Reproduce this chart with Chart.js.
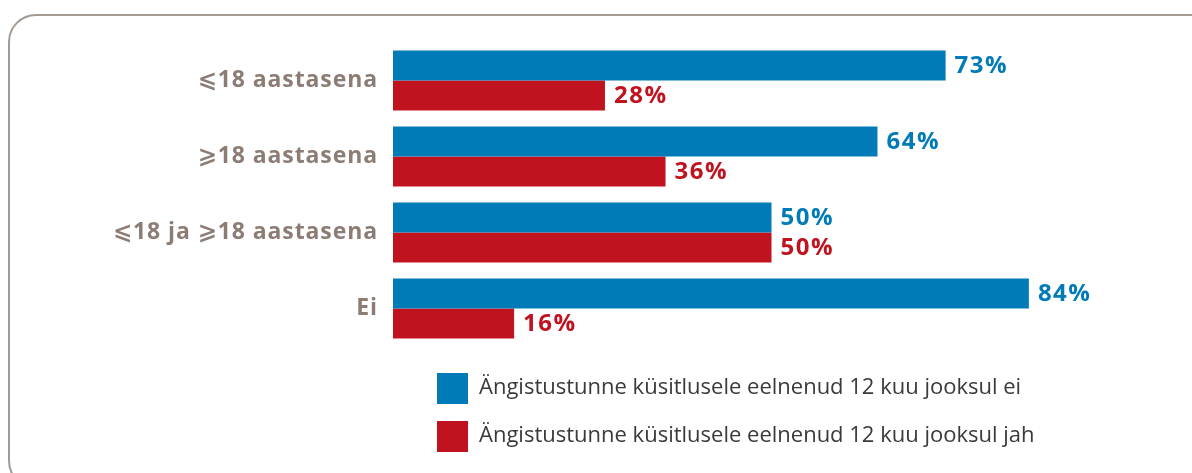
<!DOCTYPE html>
<html>
<head>
<meta charset="utf-8">
<script src="https://cdn.jsdelivr.net/npm/chart.js@4/dist/chart.umd.min.js"></script>
<style>
  html, body { margin: 0; padding: 0; background: #fff; }
  #wrap { position: relative; width: 1192px; height: 473px; overflow: hidden; }
  #frame {
    position: absolute; left: 8px; top: 14px; width: 1250px; height: 475px;
    border: 2px solid #a39a93; border-radius: 28px; box-sizing: border-box;
  }
  canvas { position: absolute; left: 0; top: 0; }
</style>
</head>
<body>
<div id="wrap">
  <div id="frame"></div>
  <canvas id="chart" width="1192" height="473"></canvas>
</div>
<script>
const categories = ['⩽18 aastasena', '⩾18 aastasena', '⩽18 ja ⩾18 aastasena', 'Ei'];
const seriesNames = [
    'Ängistustunne küsitlusele eelnenud 12 kuu jooksul ei',
    'Ängistustunne küsitlusele eelnenud 12 kuu jooksul jah'
];
const valuesEi = [73, 64, 50, 84];
const valuesJah = [28, 36, 50, 16];
const seriesColors = ['#007bb8', '#c1131f'];

const labelFont = '"Open Sans", "Noto Sans", "DejaVu Sans", sans-serif';

// a bit of tracking for the axis labels, the source font is wider
const spacing = {
    id: 'spacing',
    beforeDraw(chart) { chart.ctx.letterSpacing = '0.9px'; },
    afterDraw(chart) { chart.ctx.letterSpacing = '0px'; }
};

// value labels at the end of each bar
const valueLabels = {
    id: 'valueLabels',
    afterDatasetsDraw(chart) {
        const ctx = chart.ctx;
        ctx.save();
        ctx.letterSpacing = '1.5px';
        ctx.font = 'bold 24px ' + labelFont;
        ctx.textBaseline = 'middle';
        ctx.textAlign = 'left';
        chart.data.datasets.forEach((ds, i) => {
            const meta = chart.getDatasetMeta(i);
            ctx.fillStyle = ds.backgroundColor;
            meta.data.forEach((bar, j) => {
                ctx.fillText(ds.data[j] + '%', bar.x + 9, bar.y + 1);
            });
        });
        ctx.restore();
    }
};

// legend stacked under the bars
const sideLegend = {
    id: 'sideLegend',
    afterDraw(chart) {
        const ctx = chart.ctx;
        ctx.save();
        ctx.letterSpacing = '0px';
        ctx.font = '22px ' + labelFont;
        ctx.textBaseline = 'middle';
        chart.data.datasets.forEach((ds, i) => {
            const y = 373 + i * 48;
            ctx.fillStyle = ds.backgroundColor;
            ctx.fillRect(437, y, 31, 31);
            ctx.fillStyle = '#3a3a3a';
            ctx.fillText(ds.label, 479, y + 15);
        });
        ctx.restore();
    }
};

new Chart(document.getElementById('chart'), {
    type: 'bar',
    data: {
        labels: categories,
        datasets: [
            { label: seriesNames[0], data: valuesEi, backgroundColor: seriesColors[0] },
            { label: seriesNames[1], data: valuesJah, backgroundColor: seriesColors[1] }
        ]
    },
    options: {
        indexAxis: 'y',
        responsive: false,
        animation: false,
        layout: { padding: { top: 42.5, bottom: 126.5, left: 0, right: 42 } },
        datasets: { bar: { categoryPercentage: 0.79, barPercentage: 1 } },
        plugins: { legend: { display: false }, tooltip: { enabled: false } },
        scales: {
            x: { display: false, min: 0, max: 100 },
            y: {
                grid: { display: false, drawTicks: false },
                border: { display: false },
                ticks: {
                    color: '#8c7d74',
                    padding: 15,
                    font: { family: labelFont, size: 23, weight: 'bold' }
                },
                afterFit(sc) { sc.width = 393; }
            }
        }
    },
    plugins: [spacing, valueLabels, sideLegend]
});
</script>
</body>
</html>
